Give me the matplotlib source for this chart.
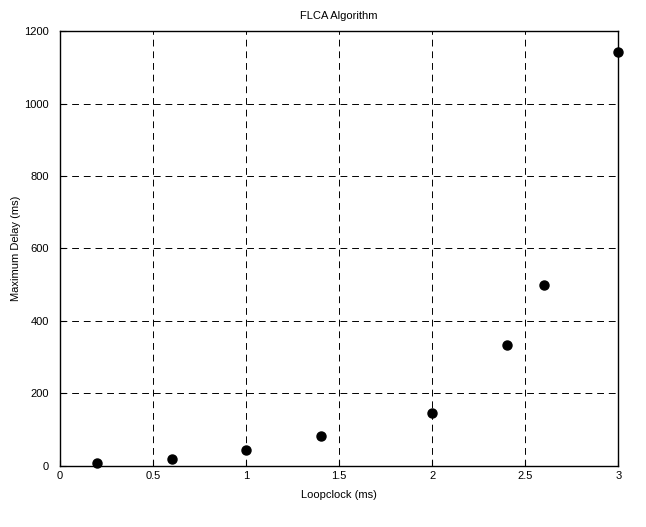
import matplotlib
matplotlib.use('Agg')
import matplotlib.pyplot as plt

plt.rcParams['font.family'] = ['Liberation Sans', 'DejaVu Sans']
plt.rcParams['font.size'] = 8

# Data
loopclock = [0.2, 0.6, 1.0, 1.4, 2.0, 2.4, 2.6, 3.0]
max_delay = [8, 20, 43, 83, 147, 333, 500, 1142]

xticks = [0, 0.5, 1, 1.5, 2, 2.5, 3]
xticklabels = ['0', '0.5', '1', '1.5', '2', '2.5', '3']
yticks = [0, 200, 400, 600, 800, 1000, 1200]

fig = plt.figure(figsize=(6.46, 5.27), dpi=100)
ax = fig.add_axes([0.093, 0.116, 0.864, 0.825])

ax.plot(loopclock, max_delay, 'o', color='k', markersize=6.5, clip_on=False, zorder=3)

ax.set_xlim(0, 3)
ax.set_ylim(0, 1200)
ax.set_xticks(xticks)
ax.set_xticklabels(xticklabels)
ax.set_yticks(yticks)
ax.grid(True, color='k', linestyle=(0, (7, 5)), linewidth=0.7)
ax.tick_params(direction='in', length=4, width=0.8)
ax.tick_params(axis='x', pad=4)
ax.tick_params(axis='y', pad=8)
for s in ax.spines.values():
    s.set_linewidth(1.0)

ax.set_xlabel('Loopclock (ms)', labelpad=6)
ax.set_ylabel('Maximum Delay (ms)', labelpad=2)
ax.set_title('FLCA Algorithm', fontsize=8, pad=9)

fig.savefig('out.png', dpi=100)
